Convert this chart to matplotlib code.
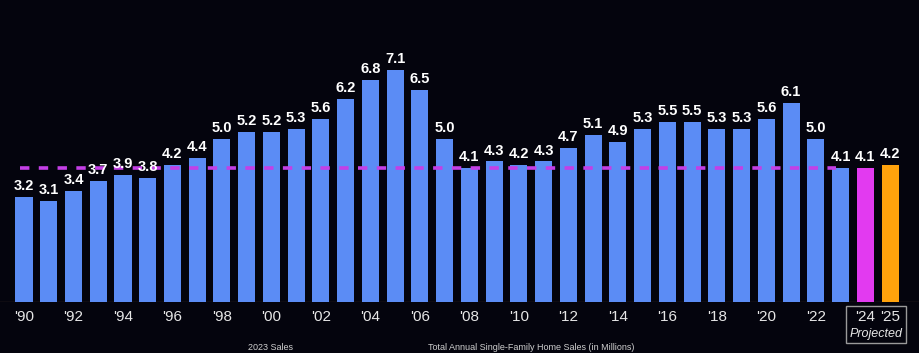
import numpy as np
import matplotlib
matplotlib.use("Agg")
import matplotlib.pyplot as plt
from matplotlib.patches import Rectangle

plt.rcParams['font.family'] = ['Liberation Sans', 'DejaVu Sans']

years = list(range(1990, 2026))
sales = [3.2, 3.1, 3.4, 3.7, 3.9, 3.8, 4.2, 4.4, 5.0, 5.2,
         5.2, 5.3, 5.6, 6.2, 6.8, 7.1, 6.5, 5.0, 4.1, 4.3,
         4.2, 4.3, 4.7, 5.1, 4.9, 5.3, 5.5, 5.5, 5.3, 5.3,
         5.6, 6.1, 5.0, 4.1, 4.1, 4.2]
ref_level = 4.1  # 2023 sales, dashed reference
tick_years = list(range(1990, 2023, 2)) + [2024, 2025]

BG = '#04040d'
BLUE = '#5b8cf5'
MAGENTA = '#e23af0'
ORANGE = '#ffa20c'

colors = [BLUE] * len(years)
colors[-2] = MAGENTA
colors[-1] = ORANGE

fig = plt.figure(figsize=(9.2, 3.53), dpi=100, facecolor=BG)
ax = fig.add_axes([0, 51 / 353, 1, 302 / 353])
ax.set_facecolor(BG)

x = np.arange(len(years))
ax.bar(x, sales, width=0.69, color=colors, zorder=2)

# dashed 2023 level line
ax.hlines(ref_level, -0.16, len(years) - 3.2, colors='#c43fe6',
          linestyles=(0, (2.6, 2.6)), linewidth=2.6, zorder=3)

for xi, v in zip(x, sales):
    ax.text(xi, v + 0.12, f"{v:.1f}", ha='center', va='bottom',
            color='white', fontsize=10.5, fontweight='bold', zorder=4)

ax.axhline(0, color='#3a2c22', linewidth=1, zorder=1)

ax.set_xlim(-0.97, 36.21)
ax.set_ylim(0, 9.24)
ax.set_xticks([years.index(y) for y in tick_years])
ax.set_xticklabels([f"'{str(y)[2:]}" for y in tick_years],
                   color='#e6e6e6', fontsize=11)
ax.tick_params(axis='x', length=0, pad=6)
ax.set_yticks([])
for s in ax.spines.values():
    s.set_visible(False)

# projected box
ax.add_patch(Rectangle((33.2, -1.25), 2.45, 1.13, fill=False,
                       edgecolor='#9a9a9a', linewidth=1, clip_on=False))
ax.text(34.45, -0.97, "Projected", ha='center', va='center',
        color='#e6e6e6', fontsize=9, style='italic')

# footer captions at the bottom edge
fig.text(248 / 920, 1 / 353, "2023 Sales", color='#cfcfcf',
         fontsize=6.5, va='bottom', ha='left')
fig.text(428 / 920, 1 / 353, "Total Annual Single-Family Home Sales (in Millions)",
         color='#cfcfcf', fontsize=6.5, va='bottom', ha='left')

fig.savefig("out.png", dpi=100, facecolor=BG)
